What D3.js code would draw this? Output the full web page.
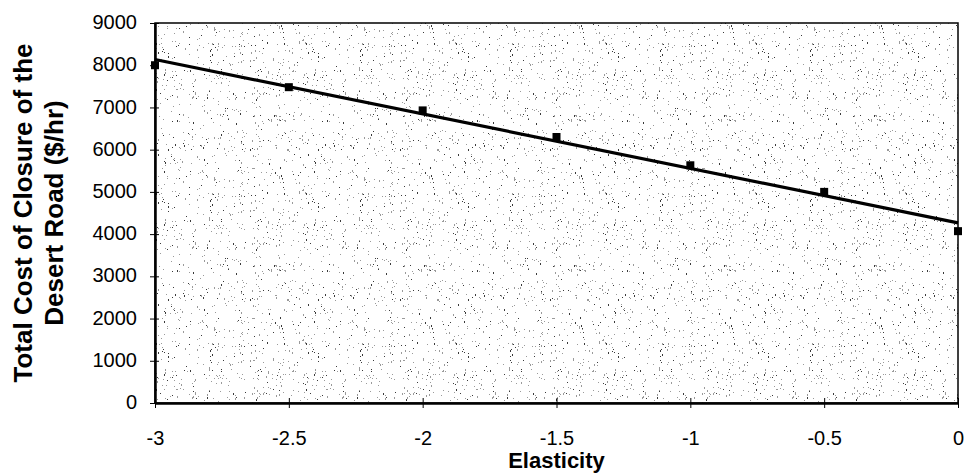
<!DOCTYPE html>
<html>
<head>
<meta charset="utf-8">
<script src="https://cdn.jsdelivr.net/npm/d3@7"></script>
<style>
  body { margin: 0; background: #fff; }
  text { font-family: "Liberation Sans", Arial, sans-serif; }
</style>
</head>
<body>
<script>
// data
var elasticity = [-3, -2.5, -2, -1.5, -1, -0.5, 0];
var totalCost = [8000, 7480, 6930, 6300, 5630, 5000, 4070];
var xTicks = [-3, -2.5, -2, -1.5, -1, -0.5, 0];
var yTicks = [0, 1000, 2000, 3000, 4000, 5000, 6000, 7000, 8000, 9000];

// set the dimensions and margins of the graph
var margin = {top: 23, right: 10, bottom: 70, left: 155},
    width = 958 - margin.left,
    height = 403 - margin.top;

var x = d3.scaleLinear().domain([-3, 0]).range([0, width]);
var y = d3.scaleLinear().domain([0, 9000]).range([height, 0]);

var svg = d3.select("body").append("svg")
    .attr("width", 968)
    .attr("height", 473);

// stipple pattern for the plot area (fixed hash, just a texture)
function hash(n) {
  n = (n ^ 61) ^ (n >>> 16);
  n = n + (n << 3);
  n = n ^ (n >>> 4);
  n = Math.imul(n, 0x27d4eb2d);
  n = n ^ (n >>> 15);
  return n >>> 0;
}
var tile = 150;
var pat = svg.append("defs").append("pattern")
    .attr("id", "stipple")
    .attr("patternUnits", "userSpaceOnUse")
    .attr("width", tile).attr("height", tile);
pat.append("rect").attr("width", tile).attr("height", tile).attr("fill", "#fff");
var dark = "", light = "";
d3.range(620).forEach(function(k) {
  var hx = hash(k * 2 + 1) % tile, hy = hash(k * 2 + 7919) % tile;
  var seg = "M" + hx + "," + hy + "h1v" + (k % 5 === 0 ? 2 : 1) + "h-1z";
  if (k % 4 === 0) dark += seg; else light += seg;
});
pat.append("path").attr("d", light).attr("fill", "#9a9a9a");
pat.append("path").attr("d", dark).attr("fill", "#3a3a3a");

var g = svg.append("g")
    .attr("transform", "translate(" + margin.left + "," + margin.top + ")");

g.append("rect")
    .attr("width", width).attr("height", height)
    .attr("fill", "url(#stipple)")
    .attr("stroke", "#000").attr("stroke-width", 1.5);

// linear trend line (least squares fit of the points)
var mx = d3.mean(elasticity), my = d3.mean(totalCost);
var sxy = d3.sum(elasticity, function(v, i) { return (v - mx) * (totalCost[i] - my); });
var sxx = d3.sum(elasticity, function(v) { return (v - mx) * (v - mx); });
var slope = sxy / sxx, icpt = my - slope * mx;

g.append("line")
    .attr("x1", x(-3)).attr("y1", y(icpt + slope * -3))
    .attr("x2", x(0)).attr("y2", y(icpt))
    .attr("stroke", "#000").attr("stroke-width", 3.2);

// markers
g.selectAll(".pt")
    .data(elasticity)
  .enter().append("rect")
    .attr("class", "pt")
    .attr("x", function(d) { return x(d) - 4; })
    .attr("y", function(d, i) { return y(totalCost[i]) - 4; })
    .attr("width", 8).attr("height", 8)
    .attr("fill", "#000");

// x axis
var xAxis = g.append("g")
    .attr("transform", "translate(0," + height + ")")
    .call(d3.axisBottom(x).tickValues(xTicks).tickSize(0).tickPadding(0)
      .tickFormat(function(d) { return String(d); }));
xAxis.select(".domain").attr("stroke-width", 2.5);
xAxis.selectAll(".tick").append("line")
    .attr("y1", -5).attr("y2", 5).attr("stroke", "#000");
xAxis.selectAll(".tick text")
    .attr("y", 42).attr("dy", 0)
    .style("font-size", "20px").attr("fill", "#000");

// y axis
var yAxis = g.append("g")
    .call(d3.axisLeft(y).tickValues(yTicks).tickSize(0).tickPadding(0)
      .tickFormat(function(d) { return String(d); }));
yAxis.select(".domain").attr("stroke-width", 2.5);
yAxis.selectAll(".tick").append("line")
    .attr("x1", -5).attr("x2", 4).attr("stroke", "#000");
yAxis.selectAll(".tick text")
    .attr("x", -18).attr("dy", "0.28em")
    .style("font-size", "20px").attr("fill", "#000");

// axis titles
svg.append("text")
    .attr("x", margin.left + width / 2).attr("y", 468)
    .attr("text-anchor", "middle")
    .style("font-size", "22px").attr("font-weight", "bold")
    .text("Elasticity");

var yt = svg.append("text")
    .attr("transform", "translate(32," + (margin.top + height / 2) + ") rotate(-90)")
    .attr("text-anchor", "middle")
    .style("font-size", "26px").attr("font-weight", "bold");
yt.append("tspan").attr("x", 0).attr("dy", 0).text("Total Cost of Closure of the");
yt.append("tspan").attr("x", 0).attr("dy", 31).text("Desert Road ($/hr)");
</script>
</body>
</html>
